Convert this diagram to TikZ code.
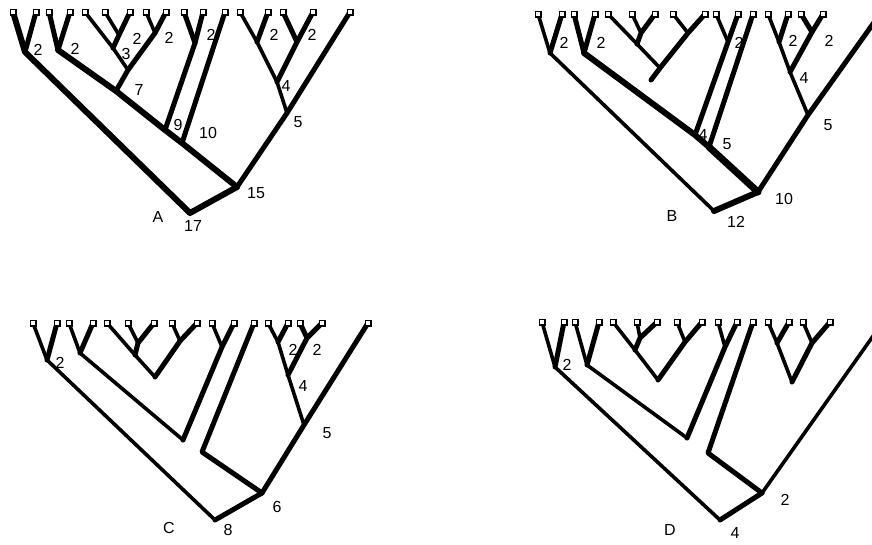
\documentclass[tikz,border=0pt]{standalone}
\usepackage{fontspec}
\setmainfont{Liberation Sans}
\pgfdeclarelayer{bg}
\pgfsetlayers{bg,main}
\begin{document}
\begin{tikzpicture}[x=1pt,y=-1pt,
  leaf/.style={draw=black,fill=white,line width=1.5pt,minimum size=5.5pt,inner sep=0pt},
  br/.style={line width=5pt,line join=round,line cap=round},
  brn/.style={line width=3.6pt,line join=round,line cap=round},
  brk/.style={line width=6pt,line join=round,line cap=round},
  lbl/.style={font=\fontsize{16}{16}\selectfont,inner sep=0pt}]
\clip (0,0) rectangle (872,544);
% ---------------- Tree A ----------------
\foreach \x [count=\i] in {13,36,49,70,85,105,130,146,166,184,203,225,240,268,283,313,350}
  \node[leaf] (a\i) at (\x,12) {};
\coordinate (An12) at (25,52);
\coordinate (An34) at (58,50);
\coordinate (An67) at (119,35);
\coordinate (An567) at (113,48);
\coordinate (An89) at (155,33);
\coordinate (An59) at (128,70);
\coordinate (An7) at (116,91);
\coordinate (An1011) at (195,43);
\coordinate (An9) at (165,130);
\coordinate (An10) at (182,143);
\coordinate (An1314) at (257,42);
\coordinate (An1516) at (297,42);
\coordinate (An4) at (277,82);
\coordinate (An5) at (287,113);
\coordinate (Af) at (237,187);
\coordinate (Ar) at (190,213);
\begin{pgfonlayer}{bg}
\draw[brk] (a1.center) -- (An12) -- (Ar) -- (Af);
\draw[br] (a2.center) -- (An12);
\draw[br] (a3.center) -- (An34);
\draw[br] (a4.center) -- (An34);
\draw[brk] (An34) -- (An7) -- (An9) -- (An10) -- (Af);
\draw[brn] (a5.center) -- (An567) -- (An59);
\draw[brn] (a6.center) -- (An67);
\draw[br] (a7.center) -- (An67) -- (An567);
\draw[brn] (a8.center) -- (An89);
\draw[br] (a9.center) -- (An89) -- (An59) -- (An7);
\draw[br] (a10.center) -- (An1011);
\draw[br] (a11.center) -- (An1011) -- (An9);
\draw[br] (a12.center) -- (An10);
\draw[brn] (a13.center) -- (An1314) -- (An4) -- (An5);
\draw[br] (a14.center) -- (An1314);
\draw[br] (a15.center) -- (An1516);
\draw[br] (a16.center) -- (An1516) -- (An4);
\draw[br] (a17.center) -- (An5) -- (Af);
\end{pgfonlayer}
\node[lbl] (lA1) at (38,50) {2};
\node[lbl] (lA2) at (75,49) {2};
\node[lbl] (lA3) at (137,39) {2};
\node[lbl] (lA4) at (126,54) {3};
\node[lbl] (lA5) at (169,38) {2};
\node[lbl] (lA6) at (139,90) {7};
\node[lbl] (lA7) at (211,35) {2};
\node[lbl] (lA8) at (178,125) {9};
\node[lbl] (lA9) at (208,133) {10};
\node[lbl] (lA10) at (274,35) {2};
\node[lbl] (lA11) at (312,35) {2};
\node[lbl] (lA12) at (286,86) {4};
\node[lbl] (lA13) at (298,122) {5};
\node[lbl] (lA14) at (256,193) {15};
\node[lbl] (lA15) at (193,226) {17};
\node[lbl] (lA16) at (158,217) {A};
% ---------------- Tree B ----------------
\foreach \x [count=\i] in {538,562,574,595,608,632,655,673,705,716,738,753,768,788,801,823,880}
  \node[leaf] (b\i) at (\x,14) {};
\coordinate (Bn12) at (550,53);
\coordinate (Bn34) at (584,53);
\coordinate (Bn67) at (641,33);
\coordinate (Bn567) at (637,44);
\coordinate (Bn89) at (688,33);
\coordinate (Bn59) at (660,68);
\coordinate (Bend) at (651,80);
\coordinate (Bn4) at (695,135);
\coordinate (Bn5) at (709,147);
\coordinate (Bn1011) at (728,42);
\coordinate (Bn1314) at (779,42);
\coordinate (Bn1516) at (812,32);
\coordinate (Bq4) at (790,72);
\coordinate (Bq5) at (808,115);
\coordinate (Bf) at (758,192);
\coordinate (Br) at (714,211);
\begin{pgfonlayer}{bg}
\draw[brn] (b1.center) -- (Bn12) -- (Br);
\draw[br] (b2.center) -- (Bn12);
\draw[br] (b3.center) -- (Bn34);
\draw[br] (b4.center) -- (Bn34);
\draw[brk] (Bn34) -- (Bn4) -- (Bn5);
\draw[line width=7pt,line cap=round,line join=round] (Bn5) -- (Bf);
\draw[brk] (Br) -- (Bf);
\draw[brn] (b5.center) -- (Bn567) -- (Bn59);
\draw[brn] (b6.center) -- (Bn67);
\draw[br] (b7.center) -- (Bn67) -- (Bn567);
\draw[brn] (b8.center) -- (Bn89);
\draw[br] (b9.center) -- (Bn89) -- (Bn59) -- (Bend);
\draw[brn] (b10.center) -- (Bn1011);
\draw[br] (b11.center) -- (Bn1011) -- (Bn4);
\draw[br] (b12.center) -- (Bn5);
\draw[brn] (b13.center) -- (Bn1314) -- (Bq4) -- (Bq5);
\draw[br] (b14.center) -- (Bn1314);
\draw[br] (b15.center) -- (Bn1516);
\draw[br] (b16.center) -- (Bn1516) -- (Bq4);
\draw[br] (b17.center) -- (Bq5) -- (Bf);
\end{pgfonlayer}
\node[lbl] (lB1) at (564,43) {2};
\node[lbl] (lB2) at (601,43) {2};
\node[lbl] (lB3) at (739,43) {2};
\node[lbl] (lB4) at (703,135) {4};
\node[lbl] (lB5) at (727,144) {5};
\node[lbl] (lB6) at (793,41) {2};
\node[lbl] (lB7) at (829,41) {2};
\node[lbl] (lB8) at (804,78) {4};
\node[lbl] (lB9) at (828,125) {5};
\node[lbl] (lB10) at (784,199) {10};
\node[lbl] (lB11) at (736,222) {12};
\node[lbl] (lB12) at (672,216) {B};
% ---------------- Tree C ----------------
\foreach \x [count=\i] in {33,57,69,93,107,128,154,172,197,212,234,254,268,288,300,322,368}
  \node[leaf] (c\i) at (\x,323) {};
\coordinate (Cn12) at (47,360);
\coordinate (Cn34) at (80,353);
\coordinate (Cn67) at (138,343);
\coordinate (Cn567) at (135,355);
\coordinate (Cn89) at (180,341);
\coordinate (Cv1) at (155,377);
\coordinate (Cv2) at (183,440);
\coordinate (Cn1011) at (222,347);
\coordinate (Cv3) at (202,452);
\coordinate (Cn1314) at (278,342);
\coordinate (Cn1516) at (307,338);
\coordinate (Cn4) at (288,375);
\coordinate (Cn5) at (304,425);
\coordinate (Cf) at (262,493);
\coordinate (Cr) at (215,520);
\begin{pgfonlayer}{bg}
\draw[brn] (c1.center) -- (Cn12) -- (Cr);
\draw[br] (c2.center) -- (Cn12);
\draw[brn] (c3.center) -- (Cn34);
\draw[br] (c4.center) -- (Cn34);
\draw[brn] (Cn34) -- (Cv2);
\draw[brn] (c5.center) -- (Cn567) -- (Cv1);
\draw[brn] (c6.center) -- (Cn67);
\draw[br] (c7.center) -- (Cn67) -- (Cn567);
\draw[brn] (c8.center) -- (Cn89);
\draw[br] (c9.center) -- (Cn89) -- (Cv1);
\draw[brn] (c10.center) -- (Cn1011);
\draw[br] (c11.center) -- (Cn1011) -- (Cv2);
\draw[br] (c12.center) -- (Cv3) -- (Cf);
\draw[brn] (c13.center) -- (Cn1314) -- (Cn4) -- (Cn5);
\draw[br] (c14.center) -- (Cn1314);
\draw[br] (c15.center) -- (Cn1516);
\draw[br] (c16.center) -- (Cn1516) -- (Cn4);
\draw[br] (c17.center) -- (Cn5) -- (Cf);
\draw[br] (Cr) -- (Cf);
\end{pgfonlayer}
\node[lbl] (lC1) at (60,363) {2};
\node[lbl] (lC2) at (293,350) {2};
\node[lbl] (lC3) at (317,350) {2};
\node[lbl] (lC4) at (303,386) {4};
\node[lbl] (lC5) at (327,433) {5};
\node[lbl] (lC6) at (277,507) {6};
\node[lbl] (lC7) at (228,530) {8};
\node[lbl] (lC8) at (169,528) {C};
% ---------------- Tree D ----------------
\foreach \x [count=\i] in {542,564,575,599,613,637,657,677,702,718,737,753,768,789,803,830,883}
  \node[leaf] (d\i) at (\x,322) {};
\coordinate (Dn12) at (555,367);
\coordinate (Dn34) at (587,365);
\coordinate (Dn67) at (640,338);
\coordinate (Dn567) at (635,350);
\coordinate (Dn89) at (685,342);
\coordinate (Dv1) at (658,380);
\coordinate (Dv2) at (687,438);
\coordinate (Dn1011) at (725,347);
\coordinate (Dv3) at (708,453);
\coordinate (Dn1314) at (777,343);
\coordinate (Dn1516) at (812,343);
\coordinate (Dv4) at (792,382);
\coordinate (Df) at (762,493);
\coordinate (Dr) at (720,520);
\begin{pgfonlayer}{bg}
\draw[brn] (d1.center) -- (Dn12) -- (Dr);
\draw[br] (d2.center) -- (Dn12);
\draw[brn] (d3.center) -- (Dn34);
\draw[br] (d4.center) -- (Dn34);
\draw[brn] (Dn34) -- (Dv2);
\draw[brn] (d5.center) -- (Dn567) -- (Dv1);
\draw[brn] (d6.center) -- (Dn67);
\draw[br] (d7.center) -- (Dn67) -- (Dn567);
\draw[brn] (d8.center) -- (Dn89);
\draw[br] (d9.center) -- (Dn89) -- (Dv1);
\draw[brn] (d10.center) -- (Dn1011);
\draw[br] (d11.center) -- (Dn1011) -- (Dv2);
\draw[br] (d12.center) -- (Dv3) -- (Df);
\draw[brn] (d13.center) -- (Dn1314) -- (Dv4);
\draw[br] (d14.center) -- (Dn1314);
\draw[brn] (d15.center) -- (Dn1516);
\draw[br] (d16.center) -- (Dn1516) -- (Dv4);
\draw[brn] (d17.center) -- (Df);
\draw[br] (Dr) -- (Df);
\end{pgfonlayer}
\node[lbl] (lD1) at (567,365) {2};
\node[lbl] (lD2) at (785,500) {2};
\node[lbl] (lD3) at (735,533) {4};
\node[lbl] (lD4) at (670,530) {D};
\end{tikzpicture}
\end{document}
